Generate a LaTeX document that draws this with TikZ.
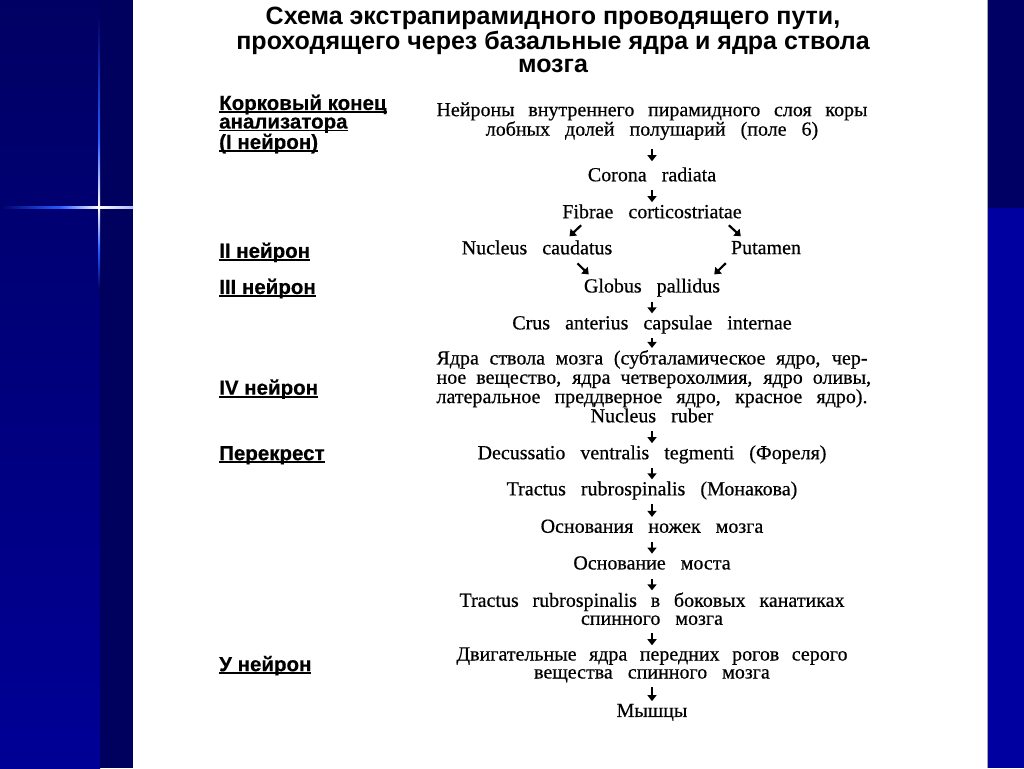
\documentclass[tikz,border=0pt]{standalone}
\usepackage{fontspec}
\setmainfont[WordSpace=3, FakeBold=0.5]{Liberation Serif}
\newfontfamily\headfont{Liberation Sans}
\newfontfamily\lblfont[FakeBold=0.4]{Liberation Sans Bold}
\usetikzlibrary{positioning,arrows.meta}

\definecolor{bgtop}{RGB}{0,0,100}
\definecolor{bgbot}{RGB}{0,0,150}
\definecolor{bgdark}{RGB}{0,0,94}
\definecolor{rtop}{RGB}{0,0,100}
\definecolor{rbot}{RGB}{0,0,160}
\definecolor{flare}{RGB}{40,90,255}

\newcommand{\lbline}[1]{\setbox0\hbox{#1}\rlap{\rule[-3pt]{\wd0}{1.8pt}}\box0}

\tikzset{
    stage/.style={font=\fontsize{20}{19.5}\selectfont, align=center, inner sep=0pt,
        execute at begin node=\strut, execute at end node=\strut},
    level/.style={font=\lblfont\fontsize{20.5}{18.5}\selectfont, align=left,
        anchor=west, inner sep=0pt},
    title/.style={font=\headfont\bfseries\fontsize{25}{23.5}\selectfont, align=center, inner sep=0pt},
    arr/.style={-{Triangle[length=6pt,width=9pt]}, line width=2.2pt, shorten <=3pt, shorten >=2pt},
    diag/.style={arr, shorten <=0pt, shorten >=0pt},
}

\begin{document}
\begin{tikzpicture}[x=1pt, y=1pt, node distance=16.8pt]
    \useasboundingbox (0,0) rectangle (1024,-768);
    % background of the slide
    \fill[bgtop] (0,0) rectangle (1024,-768);
    \shade[top color=bgtop, bottom color=bgbot] (0,0) rectangle (100,-768);
    \fill[bgdark] (100,0) rectangle (133,-768);
    \fill[white] (133,0) rectangle (987,-768);
    \fill[rtop] (987,0) rectangle (1024,-208);
    \fill[rbot] (987,-208) rectangle (1024,-768);
    \draw[gray!70, line width=0.8pt] (987,0) -- (987,-768);
    \shade[left color=bgtop, right color=flare] (0,-206) rectangle (60,-208);
    \shade[left color=flare, right color=white] (60,-206) rectangle (99,-208);
    \shade[left color=white, right color=flare!40] (99,-206) rectangle (133,-208);
    \shade[top color=bgtop, bottom color=flare] (98,-15) rectangle (100,-140);
    \shade[top color=flare, bottom color=white] (98,-140) rectangle (100,-207);
    \shade[top color=white, bottom color=flare] (98,-207) rectangle (100,-250);
    \shade[top color=flare, bottom color=bgdark] (98,-250) rectangle (100,-290);

    \node[title] (t) at (553,-40) {Схема экстрапирамидного проводящего пути,\\проходящего через базальные ядра и ядра ствола\\мозга};

    \node[stage] (n1) at (652,-122) {\makebox[431pt][s]{Нейроны внутреннего пирамидного слоя коры}\\лобных долей полушарий (поле 6)};
    \node[stage, below=25.5pt of n1] (n2) {Corona radiata};
    \node[stage, below=of n2] (n3) {Fibrae corticostriatae};
    \node[stage, below=16pt of n3, xshift=-115pt] (n4) {Nucleus caudatus};
    \node[stage, below=16pt of n3, xshift=114pt] (n5) {Putamen};
    \node[stage, below=18pt of n4, xshift=115pt] (n6) {Globus pallidus};
    \node[stage, below=of n6] (n7) {Crus anterius capsulae internae};
    \node[stage, below=14.5pt of n7, font=\fontsize{20}{19.3}\selectfont] (n8) {\makebox[431pt][s]{Ядра ствола мозга (субталамическое ядро, чер-}\\\makebox[431pt][s]{ное вещество, ядра четверохолмия, ядро оливы,}\\\makebox[431pt][s]{латеральное преддверное ядро, красное ядро).}\\Nucleus ruber};
    \node[stage, below=of n8] (n9) {Decussatio ventralis tegmenti (Фореля)};
    \node[stage, below=16pt of n9] (n10) {Tractus rubrospinalis (Монакова)};
    \node[stage, below=17.5pt of n10] (n11) {Основания ножек мозга};
    \node[stage, below=of n11] (n12) {Основание моста};
    \node[stage, below=of n12, font=\fontsize{20}{18}\selectfont] (n13) {\makebox[385pt][s]{Tractus rubrospinalis в боковых канатиках}\\спинного мозга};
    \node[stage, below=of n13, font=\fontsize{20}{18}\selectfont] (n14) {\makebox[391pt][s]{Двигательные ядра передних рогов серого}\\вещества спинного мозга};
    \node[stage, below=19pt of n14] (n15) {Мышцы};

    \node[level] (l1) at (219,-124) {\lbline{Корковый конец}\\\lbline{анализатора}\\\lbline{(I нейрон)}};
    \node[level] (l2) at ([yshift=-2pt]l1.west |- n4) {\lbline{II нейрон}};
    \node[level] (l3) at (l1.west |- n6) {\lbline{III нейрон}};
    \node[level] (l4) at (l1.west |- n8) {\lbline{IV нейрон}};
    \node[level] (l5) at (l1.west |- n9) {\lbline{Перекрест}};
    \node[level] (l6) at (l1.west |- n14) {\lbline{У нейрон}};

    \draw[arr, shorten <=7pt, shorten >=6pt] (n1) -- (n2);
    \draw[arr] (n2) -- (n3);
    \draw[diag] ([xshift=19pt,yshift=-1pt]n3.south west) -- ([xshift=-43pt,yshift=4pt]n4.north east);
    \draw[diag] ([xshift=-13pt,yshift=-1pt]n3.south east) -- ([xshift=10pt,yshift=4pt]n5.north west);
    \draw[diag] ([xshift=-35pt,yshift=-3pt]n4.south east) -- ([xshift=5pt,yshift=4pt]n6.north west);
    \draw[diag] ([xshift=-5pt,yshift=-3pt]n5.south west) -- ([xshift=-6pt,yshift=4pt]n6.north east);
    \draw[arr] (n6) -- (n7);
    \draw[arr] (n7) -- (n8);
    \draw[arr] (n8) -- (n9);
    \draw[arr] (n9) -- (n10);
    \draw[arr] (n10) -- (n11);
    \draw[arr] (n11) -- (n12);
    \draw[arr] (n12) -- (n13);
    \draw[arr] (n13) -- (n14);
    \draw[arr] (n14) -- (n15);
\end{tikzpicture}
\end{document}
